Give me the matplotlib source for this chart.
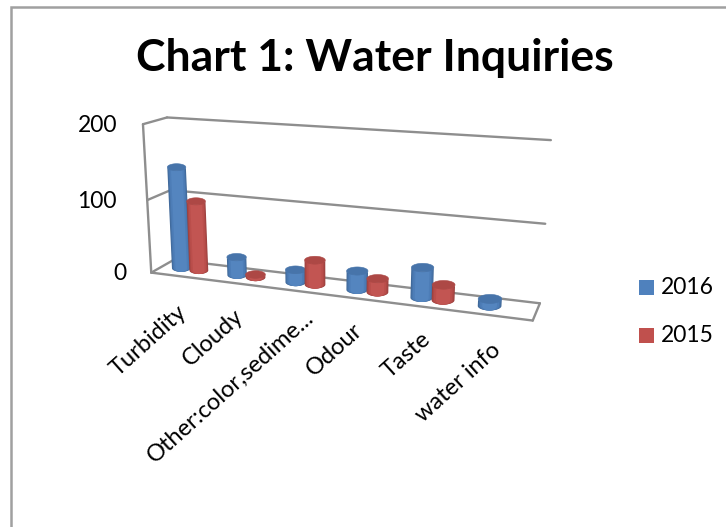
import numpy as np
import matplotlib
matplotlib.use('Agg')
import matplotlib.pyplot as plt
from matplotlib.colors import to_rgb
from matplotlib.patches import Polygon, Rectangle

categories = ['Turbidity', 'Cloudy', 'Other:color,sedime...', 'Odour', 'Taste', 'water info']
values_2016 = [140, 25, 17, 25, 39, 9]
values_2015 = [96, 4, 33, 18, 20, 0]
y_ticks = [0, 100, 200]
title = 'Chart 1: Water Inquiries'

BLUE = '#4F81BD'
RED = '#C0504D'
GRID = '#8E8E8E'

plt.rcParams['font.family'] = ['Lato', 'DejaVu Sans']

# 3D box corners (category, depth, value) and where they land in the picture
box_pts = [(0, 0, 0), (6, 0, 0), (6, 1, 0), (0, 1, 0),
           (0, 0, 100), (0, 1, 100), (6, 1, 100),
           (0, 0, 200), (0, 1, 200), (6, 1, 200)]
pix_pts = [(152, 272.5), (532.7, 320.7), (540, 303), (173, 260.5),
           (147.7, 200), (170.5, 189), (545, 224),
           (141.7, 124.3), (168, 118), (551, 140)]


def fit_camera(world, image):
    rows = []
    for (c, d, v), (x, y) in zip(world, image):
        p = [c, d, v / 100.0, 1]
        rows.append(p + [0, 0, 0, 0] + [-x * k for k in p])
        rows.append([0, 0, 0, 0] + p + [-y * k for k in p])
    return np.linalg.svd(np.array(rows))[2][-1].reshape(3, 4)


CAM = fit_camera(box_pts, pix_pts)


def project(c, d, v):
    c, d, v = np.broadcast_arrays(c, d, v)
    p = np.stack([c, d, v / 100.0, np.ones(c.shape)])
    q = CAM @ p
    return q[0] / q[2], q[1] / q[2]


def line3d(ax, a, b):
    xa, ya = project(*a)
    xb, yb = project(*b)
    ax.plot([xa, xb], [ya, yb], color=GRID, lw=1.7, solid_capstyle='round', zorder=1)


def shade(col, k):
    rgb = np.array(to_rgb(col))
    if k >= 0:
        return tuple(rgb + (1 - rgb) * k)
    return tuple(rgb * (1 + k))


def cylinder(ax, c, value, col, z):
    r_c, mid = 0.17, 0.5
    xb, yb = project(c, mid, 0)
    xt, yt = project(c, mid, value)
    left, _ = project(c - r_c, mid, 0)
    right, _ = project(c + r_c, mid, 0)
    rx = (right - left) / 2
    ry = rx * 0.38
    t = np.linspace(np.pi, 0, 25)
    # nested bodies, dark at the rim and lighter towards the middle
    for scale, k in zip([1.0, 0.92, 0.8, 0.62], [-0.2, -0.1, -0.03, 0.03]):
        base = np.column_stack([xb + scale * rx * np.cos(t), yb + ry * np.sin(t)])
        lid = np.column_stack([xt + scale * rx * np.cos(t[::-1]), yt + ry * np.sin(t[::-1])])
        ax.add_patch(Polygon(np.vstack([base, lid]), closed=True, fc=shade(col, k), ec='none', zorder=z))
    t2 = np.linspace(0, 2 * np.pi, 49)
    top = np.column_stack([xt + rx * np.cos(t2), yt + ry * np.sin(t2)])
    ax.add_patch(Polygon(top, closed=True, fc=shade(col, -0.1), ec=shade(col, -0.1), lw=0.4, zorder=z + 0.5))


fig = plt.figure(figsize=(7.26, 5.27), dpi=100)
ax = fig.add_axes([0, 0, 1, 1])
ax.set_xlim(0, 726)
ax.set_ylim(527, 0)
ax.axis('off')

# chart frame, cut off by the picture at the right and bottom
ax.plot([11, 11, 726], [527, 7, 7], color='#A0A0A0', lw=1.8, solid_joinstyle='miter', zorder=0)

# walls and floor
for v in y_ticks:
    line3d(ax, (0, 0, v), (0, 1, v))
    line3d(ax, (0, 1, v), (6, 1, v))
line3d(ax, (0, 0, 0), (0, 0, 200))
line3d(ax, (0, 0, 0), (6, 0, 0))
line3d(ax, (6, 0, 0), (6, 1, 0))

# left to right so the red overlaps the blue
z = 2
for i in range(len(categories)):
    if values_2016[i] > 0:
        cylinder(ax, i + 0.5 - 0.16, values_2016[i], BLUE, z)
    z += 1
    if values_2015[i] > 0:
        cylinder(ax, i + 0.5 + 0.16, values_2015[i], RED, z)
    z += 1

ax.text(375, 58, title, ha='center', va='center', fontsize=32, fontweight='bold', color='black')

for v, yy in zip(y_ticks, [274, 201, 126]):
    ax.text(117 if v else 126, yy, str(v), ha='right', va='center', fontsize=16.5, color='black')

label_ends = [(184, 309), (240, 313), (311, 314), (360, 327), (428, 336), (498, 347)]
for name, (lx, ly) in zip(categories, label_ends):
    ax.text(lx, ly, name, rotation=42, rotation_mode='anchor', ha='right', va='center',
            fontsize=17, color='black')

ax.add_patch(Rectangle((639, 280), 15, 15, fc=BLUE, ec='none'))
ax.add_patch(Rectangle((639, 328), 15, 15, fc=RED, ec='none'))
ax.text(661, 288, '2016', va='center', fontsize=16.5, color='black')
ax.text(661, 336, '2015', va='center', fontsize=16.5, color='black')

fig.savefig('out.png', dpi=100)
